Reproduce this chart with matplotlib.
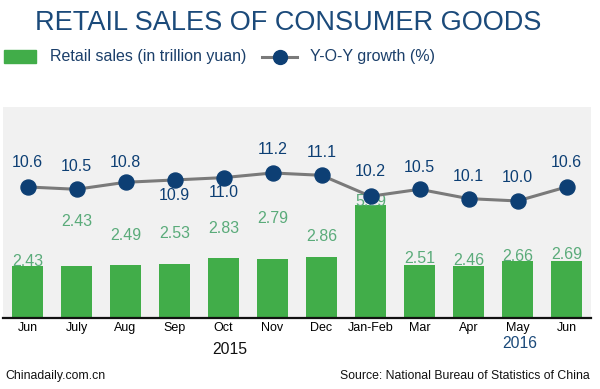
import matplotlib
matplotlib.use('Agg')
import matplotlib.pyplot as plt
import matplotlib.patches as mpatches
from matplotlib.lines import Line2D

plt.rcParams['font.family'] = ['Liberation Sans', 'DejaVu Sans']

# data
months = ['Jun', 'July', 'Aug', 'Sep', 'Oct', 'Nov', 'Dec', 'Jan-Feb', 'Mar', 'Apr', 'May', 'Jun']
sales = [2.43, 2.43, 2.49, 2.53, 2.83, 2.79, 2.86, 5.29, 2.51, 2.46, 2.66, 2.69]
growth = [10.6, 10.5, 10.8, 10.9, 11.0, 11.2, 11.1, 10.2, 10.5, 10.1, 10.0, 10.6]

# label placement (pixels above the mark, as in the original)
sales_lift = [5, 45, 29, 31, 29, 40, 21, 4, 6, 5, 5, 6]
growth_lift = [24, 23, 20, -16, -15, 23, 23, 25, 22, 22, 23, 24]

green = '#41ad49'
navy = '#0d3f74'
label_green = '#5aab7a'
px = 0.72  # points per pixel at dpi 100

fig = plt.figure(figsize=(6, 3.89), dpi=100)
ax = fig.add_axes([0.005, 0.1825, 0.98, 0.5425])
ax.set_facecolor('#f1f1f1')

x = list(range(len(months)))
ax.bar(x, sales, width=0.62, color=green, zorder=2)
for i, v in enumerate(sales):
    ax.annotate('%.2f' % v, (i, v), xytext=(0, sales_lift[i] * px), textcoords='offset points',
                ha='center', va='center', fontsize=11.5, color=label_green, zorder=3)

ax.set_xlim(-0.5, 11.5)
ax.set_ylim(0, 9.9)
ax.set_yticks([])
ax.set_xticks(x)
ax.set_xticklabels(months, fontsize=9)
ax.tick_params(axis='x', length=0, pad=3)
for s in ['top', 'left', 'right']:
    ax.spines[s].set_visible(False)
ax.spines['bottom'].set_linewidth(1.6)
ax.spines['bottom'].set_color('#111111')

ax2 = ax.twinx()
ax2.plot(x, growth, color='#7a7a7a', linewidth=2.2, marker='o', markersize=10.8,
         markerfacecolor=navy, markeredgecolor=navy, zorder=4)
for i, v in enumerate(growth):
    ax2.annotate('%.1f' % v, (i, v), xytext=(0, growth_lift[i] * px), textcoords='offset points',
                 ha='center', va='center', fontsize=11.5, color=navy)
ax2.set_ylim(4.98, 14.03)
ax2.set_yticks([])
for s in ['top', 'left', 'right', 'bottom']:
    ax2.spines[s].set_visible(False)

# title
fig.text(288 / 600, 1 - 23 / 389, 'RETAIL SALES OF CONSUMER GOODS', ha='center', va='center',
         fontsize=19.5, color='#1b4a7a')

# legend
fig.patches.append(mpatches.Rectangle((4 / 600, 1 - 63 / 389), 32 / 600, 13 / 389,
                                      transform=fig.transFigure, color=green))
fig.text(50 / 600, 1 - 57 / 389, 'Retail sales (in trillion yuan)', ha='left', va='center',
         fontsize=11.5, color='#1b3f6a')
fig.lines.append(Line2D([262 / 600, 297 / 600], [1 - 57 / 389, 1 - 57 / 389], transform=fig.transFigure,
                        color='#7a7a7a', linewidth=2.2))
fig.lines.append(Line2D([280 / 600], [1 - 57 / 389], transform=fig.transFigure, marker='o',
                        markersize=10, color=navy))
fig.text(310 / 600, 1 - 57 / 389, 'Y-O-Y growth (%)', ha='left', va='center',
         fontsize=11.5, color='#1b3f6a')

# years
fig.text(230 / 600, 1 - 350 / 389, '2015', ha='center', va='center', fontsize=11.3, color='#111111')
fig.text(520 / 600, 1 - 343 / 389, '2016', ha='center', va='center', fontsize=11.3, color='#1b4a7a')

# footer
fig.text(5 / 600, 1 - 376 / 389, 'Chinadaily.com.cn', ha='left', va='center', fontsize=8.8, color='#111111')
fig.text(590 / 600, 1 - 376 / 389, 'Source: National Bureau of Statistics of China', ha='right',
         va='center', fontsize=8.8, color='#111111')

fig.savefig('out.png', dpi=100)
